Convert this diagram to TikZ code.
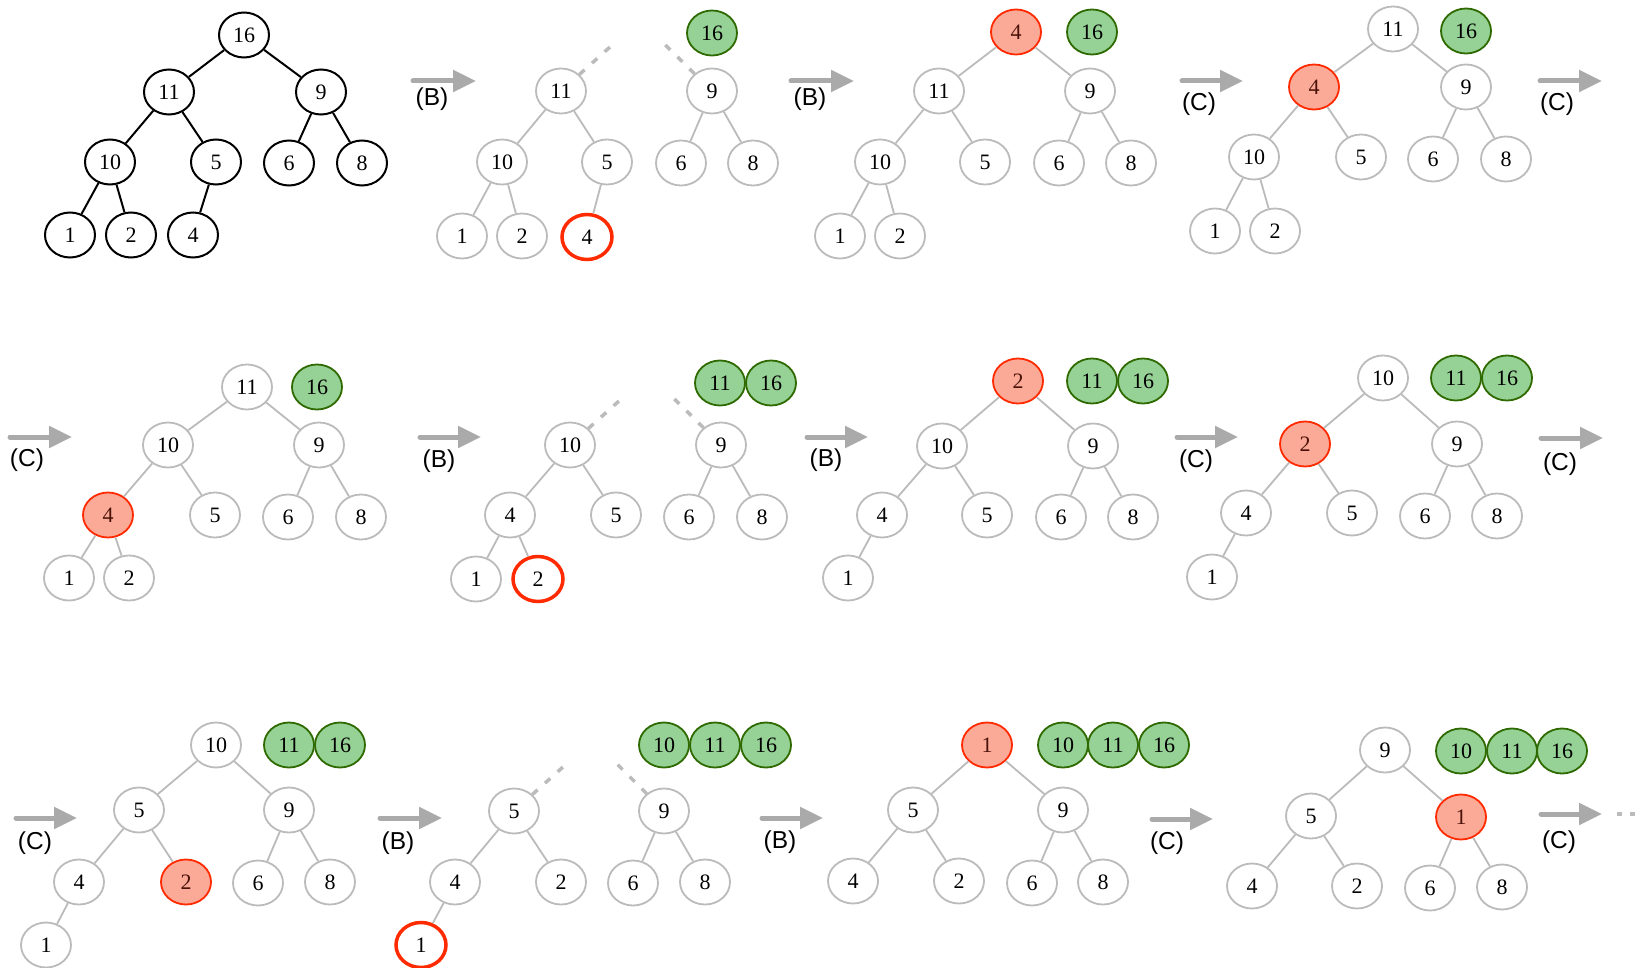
\documentclass[tikz,border=0pt]{standalone}
\usepackage{fontspec}
\setmainfont{Liberation Serif}
\newfontfamily\labfont{Liberation Sans}
\usetikzlibrary{arrows.meta,shapes.geometric}
\definecolor{edgegray}{HTML}{BBBBBB}
\definecolor{flowgray}{HTML}{AAAAAA}
\definecolor{donefill}{HTML}{96D296}
\definecolor{doneline}{HTML}{2F6A00}
\definecolor{swapfill}{HTML}{FCAA98}
\definecolor{swapline}{HTML}{FF2A00}
\definecolor{swaptext}{HTML}{4A1208}

\begin{document}
\begin{tikzpicture}[x=1pt,y=-1pt,
  hnode/.style={ellipse,draw=edgegray,line width=1.8pt,minimum width=50pt,minimum height=45pt,inner sep=0pt,font=\fontsize{22}{24}\selectfont},
  orig/.style={hnode,draw=black,line width=2pt},
  done/.style={hnode,draw=doneline,fill=donefill},
  swap/.style={hnode,draw=swapline,fill=swapfill,text=swaptext},
  moved/.style={hnode,draw=swapline,line width=3.5pt},
  tedge/.style={edgegray,line width=1.8pt},
  gone/.style={edgegray,line width=3.5pt,dash pattern=on 7pt off 10pt,shorten >=34pt},
  flow/.style={flowgray,line width=5pt,line cap=round,-{Triangle[length=23pt,width=21pt]}},
  lab/.style={font=\labfont\fontsize{24.5}{28}\selectfont}]
\useasboundingbox (0,0) rectangle (1637,968);

\node[orig] (a16) at (244,35) {16};
\node[orig] (a11) at (169,92) {11}; \node[orig] (a9) at (321,92) {9};
\node[orig] (a10) at (110,162) {10}; \node[orig] (a5) at (216,162) {5}; \node[orig] (a6) at (289,163) {6}; \node[orig] (a8) at (362,163) {8};
\node[orig] (a1) at (70,235) {1}; \node[orig] (a2) at (131,235) {2}; \node[orig] (a4) at (193,235) {4};
\draw[line width=2pt] (a16)--(a11) (a16)--(a9) (a11)--(a10) (a11)--(a5) (a9)--(a6) (a9)--(a8) (a10)--(a1) (a10)--(a2) (a5)--(a4);

\coordinate (bs) at (413,81); \coordinate (be) at (476,81);
\draw[flow] (bs)--(be); \node[lab] (bl) at (432,99) {(B)};
\node[done] (b16) at (712,33) {16};
\node[hnode] (b11) at (561,91) {11}; \node[hnode] (b9) at (712,91) {9};
\node[hnode] (b10) at (502,162) {10}; \node[hnode] (b5) at (607,162) {5}; \node[hnode] (b6) at (681,163) {6}; \node[hnode] (b8) at (753,163) {8};
\node[hnode] (b1) at (462,236) {1}; \node[hnode] (b2) at (522,236) {2}; \node[moved] (b4) at (587,237) {4};
\coordinate (btop) at (640,20);
\draw[gone] (b11)--(btop); \draw[gone] (b9)--(btop);
\draw[tedge] (b11)--(b10) (b11)--(b5) (b9)--(b6) (b9)--(b8) (b10)--(b1) (b10)--(b2) (b5)--(b4);

\coordinate (cs) at (791,81); \coordinate (ce) at (854,81);
\draw[flow] (cs)--(ce); \node[lab] (cl) at (810,99) {(B)};
\node[swap] (c4) at (1016,32) {4}; \node[done] (c16) at (1092,32) {16};
\node[hnode] (c11) at (939,91) {11}; \node[hnode] (c9) at (1090,91) {9};
\node[hnode] (c10) at (880,162) {10}; \node[hnode] (c5) at (985,162) {5}; \node[hnode] (c6) at (1059,163) {6}; \node[hnode] (c8) at (1131,163) {8};
\node[hnode] (c1) at (840,236) {1}; \node[hnode] (c2) at (900,236) {2};
\draw[tedge] (c4)--(c11) (c4)--(c9) (c11)--(c10) (c11)--(c5) (c9)--(c6) (c9)--(c8) (c10)--(c1) (c10)--(c2);

\coordinate (ds) at (1182,81); \coordinate (de) at (1243,81);
\draw[flow] (ds)--(de); \node[lab] (dl) at (1199,104) {(C)};
\node[hnode] (d11) at (1393,29) {11}; \node[done] (d16) at (1466,31) {16};
\node[swap] (d4) at (1314,87) {4}; \node[hnode] (d9) at (1466,87) {9};
\node[hnode] (d10) at (1254,157) {10}; \node[hnode] (d5) at (1361,157) {5}; \node[hnode] (d6) at (1433,159) {6}; \node[hnode] (d8) at (1506,159) {8};
\node[hnode] (d1) at (1215,231) {1}; \node[hnode] (d2) at (1275,231) {2};
\draw[tedge] (d11)--(d4) (d11)--(d9) (d4)--(d10) (d4)--(d5) (d9)--(d6) (d9)--(d8) (d10)--(d1) (d10)--(d2);
\coordinate (dns) at (1540,81); \coordinate (dne) at (1602,81);
\draw[flow] (dns)--(dne); \node[lab] (dnl) at (1557,104) {(C)};

\coordinate (es) at (10,437); \coordinate (ee) at (72,437);
\draw[flow] (es)--(ee); \node[lab] (el) at (27,460) {(C)};
\node[hnode] (e11) at (247,387) {11}; \node[done] (e16) at (317,387) {16};
\node[hnode] (e10) at (168,445) {10}; \node[hnode] (e9) at (319,445) {9};
\node[swap] (e4) at (108,515) {4}; \node[hnode] (e5) at (215,515) {5}; \node[hnode] (e6) at (288,517) {6}; \node[hnode] (e8) at (361,517) {8};
\node[hnode] (e1) at (69,578) {1}; \node[hnode] (e2) at (129,578) {2};
\draw[tedge] (e11)--(e10) (e11)--(e9) (e10)--(e4) (e10)--(e5) (e9)--(e6) (e9)--(e8) (e4)--(e1) (e4)--(e2);

\coordinate (fs) at (420,437); \coordinate (fe) at (481,437);
\draw[flow] (fs)--(fe); \node[lab] (fl) at (439,461) {(B)};
\node[done] (f11) at (720,383) {11}; \node[done] (f16) at (771,383) {16};
\node[hnode] (f10) at (570,445) {10}; \node[hnode] (f9) at (721,445) {9};
\node[hnode] (f4) at (510,515) {4}; \node[hnode] (f5) at (616,515) {5}; \node[hnode] (f6) at (689,517) {6}; \node[hnode] (f8) at (762,517) {8};
\node[hnode] (f1) at (476,579) {1}; \node[moved] (f2) at (538,579) {2};
\coordinate (ftop) at (649,374);
\draw[gone] (f10)--(ftop); \draw[gone] (f9)--(ftop);
\draw[tedge] (f10)--(f4) (f10)--(f5) (f9)--(f6) (f9)--(f8) (f4)--(f1) (f4)--(f2);

\coordinate (gs) at (807,437); \coordinate (ge) at (868,437);
\draw[flow] (gs)--(ge); \node[lab] (gl) at (826,460) {(B)};
\node[swap] (g2) at (1018,381) {2}; \node[done] (g11) at (1092,381) {11}; \node[done] (g16) at (1143,381) {16};
\node[hnode] (g10) at (942,446) {10}; \node[hnode] (g9) at (1093,446) {9};
\node[hnode] (g4) at (882,515) {4}; \node[hnode] (g5) at (987,515) {5}; \node[hnode] (g6) at (1061,517) {6}; \node[hnode] (g8) at (1133,517) {8};
\node[hnode] (g1) at (848,578) {1};
\draw[tedge] (g2)--(g10) (g2)--(g9) (g10)--(g4) (g10)--(g5) (g9)--(g6) (g9)--(g8) (g4)--(g1);

\coordinate (hs) at (1177,437); \coordinate (he) at (1238,437);
\draw[flow] (hs)--(he); \node[lab] (hl) at (1196,461) {(C)};
\node[hnode] (h10) at (1383,378) {10}; \node[done] (h11) at (1456,378) {11}; \node[done] (h16) at (1507,378) {16};
\node[swap] (h2) at (1305,444) {2}; \node[hnode] (h9) at (1457,444) {9};
\node[hnode] (h4) at (1246,513) {4}; \node[hnode] (h5) at (1352,513) {5}; \node[hnode] (h6) at (1425,516) {6}; \node[hnode] (h8) at (1497,516) {8};
\node[hnode] (h1) at (1212,577) {1};
\draw[tedge] (h10)--(h2) (h10)--(h9) (h2)--(h4) (h2)--(h5) (h9)--(h6) (h9)--(h8) (h4)--(h1);
\coordinate (hns) at (1541,438); \coordinate (hne) at (1603,438);
\draw[flow] (hns)--(hne); \node[lab] (hnl) at (1560,464) {(C)};

\coordinate (is) at (16,818); \coordinate (ie) at (77,818);
\draw[flow] (is)--(ie); \node[lab] (il) at (35,843) {(C)};
\node[hnode] (i10) at (216,745) {10}; \node[done] (i11) at (289,745) {11}; \node[done] (i16) at (340,745) {16};
\node[hnode] (i5) at (139,810) {5}; \node[hnode] (i9) at (289,810) {9};
\node[hnode] (i4) at (79,882) {4}; \node[swap] (i2) at (186,882) {2}; \node[hnode] (i6) at (258,883) {6}; \node[hnode] (i8) at (330,882) {8};
\node[hnode] (i1) at (46,945) {1};
\draw[tedge] (i10)--(i5) (i10)--(i9) (i5)--(i4) (i5)--(i2) (i9)--(i6) (i9)--(i8) (i4)--(i1);

\coordinate (js) at (380,818); \coordinate (je) at (442,818);
\draw[flow] (js)--(je); \node[lab] (jl) at (398,843) {(B)};
\node[done] (j10) at (664,745) {10}; \node[done] (j11) at (715,745) {11}; \node[done] (j16) at (766,745) {16};
\node[hnode] (j5) at (514,811) {5}; \node[hnode] (j9) at (664,811) {9};
\node[hnode] (j4) at (455,882) {4}; \node[hnode] (j2) at (561,882) {2}; \node[hnode] (j6) at (633,883) {6}; \node[hnode] (j8) at (705,882) {8};
\node[moved] (j1) at (421,945) {1};
\coordinate (jtop) at (593,740);
\draw[gone] (j5)--(jtop); \draw[gone] (j9)--(jtop);
\draw[tedge] (j5)--(j4) (j5)--(j2) (j9)--(j6) (j9)--(j8) (j4)--(j1);

\coordinate (ks) at (762,818); \coordinate (ke) at (823,818);
\draw[flow] (ks)--(ke); \node[lab] (kl) at (780,842) {(B)};
\node[swap] (k1) at (987,745) {1}; \node[done] (k10) at (1063,745) {10}; \node[done] (k11) at (1113,745) {11}; \node[done] (k16) at (1164,745) {16};
\node[hnode] (k5) at (913,810) {5}; \node[hnode] (k9) at (1063,810) {9};
\node[hnode] (k4) at (853,881) {4}; \node[hnode] (k2) at (959,881) {2}; \node[hnode] (k6) at (1032,883) {6}; \node[hnode] (k8) at (1103,882) {8};
\draw[tedge] (k1)--(k5) (k1)--(k9) (k5)--(k4) (k5)--(k2) (k9)--(k6) (k9)--(k8);

\coordinate (ls) at (1152,819); \coordinate (le) at (1213,819);
\draw[flow] (ls)--(le); \node[lab] (ll) at (1167,843) {(C)};
\node[hnode] (l9) at (1385,750) {9}; \node[done] (l10) at (1461,751) {10}; \node[done] (l11) at (1512,751) {11}; \node[done] (l16) at (1562,751) {16};
\node[hnode] (l5) at (1311,816) {5}; \node[swap] (l1) at (1461,817) {1};
\node[hnode] (l4) at (1252,886) {4}; \node[hnode] (l2) at (1357,886) {2}; \node[hnode] (l6) at (1430,888) {6}; \node[hnode] (l8) at (1502,887) {8};
\draw[tedge] (l9)--(l5) (l9)--(l1) (l5)--(l4) (l5)--(l2) (l1)--(l6) (l1)--(l8);
\coordinate (lns) at (1541,814); \coordinate (lne) at (1602,814);
\draw[flow] (lns)--(lne); \node[lab] (lnl) at (1559,842) {(C)};
\coordinate (lds) at (1617,814); \coordinate (lde) at (1650,814);
\draw[edgegray,line width=4pt,dash pattern=on 5pt off 8pt] (lds)--(lde);
\end{tikzpicture}
\end{document}
